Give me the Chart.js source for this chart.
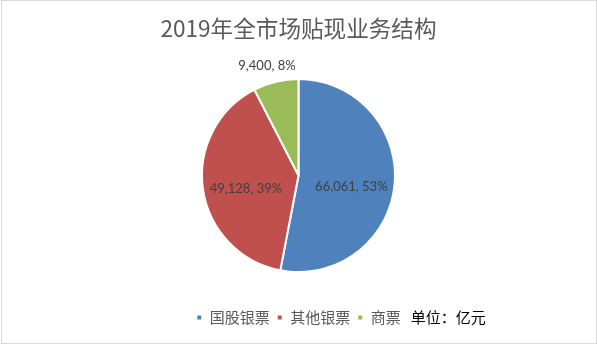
<!DOCTYPE html>
<html>
<head>
<meta charset="utf-8">
<title>2019年全市场贴现业务结构</title>
<script src="https://cdn.jsdelivr.net/npm/chart.js@4/dist/chart.umd.min.js"></script>
<style>
  html, body { margin: 0; padding: 0; background: #fff; }
  #box { width: 597px; height: 345px; }
</style>
</head>
<body>
<div id="box"><canvas id="pieChart"></canvas></div>
<script>
// ======================================
// DADOS
// ======================================

const categorias = ["国股银票", "其他银票", "商票"];
const valores = [66061, 49128, 9400];
const cores = ["#4F81BD", "#C0504D", "#9BBB59"];
const titulo = "2019年全市场贴现业务结构";
const unidade = "单位：亿元";

const total = valores.reduce((a, b) => a + b, 0);

// rótulo "valor, %" de cada fatia
function textoRotulo(i) {
    const pct = Math.round(valores[i] / total * 100);
    return valores[i].toLocaleString("en-US") + ", " + pct + "%";
}


// ======================================
// PLUGINS
// ======================================

// moldura cinza em volta do gráfico
const moldura = {
    id: "moldura",
    beforeDraw(chart) {
        const ctx = chart.ctx;
        ctx.save();
        ctx.fillStyle = "#ffffff";
        ctx.fillRect(0, 0, chart.width, chart.height);
        ctx.strokeStyle = "#d9d9d9";
        ctx.lineWidth = 1;
        ctx.strokeRect(1.5, 0.5, chart.width - 2, chart.height - 2);
        ctx.restore();
    }
};

// rótulos das fatias: dentro para as grandes, fora para a pequena
const rotulos = {
    id: "rotulos",
    afterDatasetsDraw(chart) {
        const ctx = chart.ctx;
        const arcos = chart.getDatasetMeta(0).data;

        ctx.save();
        ctx.font = "13px Lato";
        ctx.fillStyle = "#404040";
        ctx.textAlign = "center";
        ctx.textBaseline = "middle";

        arcos.forEach((arco, i) => {
            const meio = (arco.startAngle + arco.endAngle) / 2;
            const cos = Math.cos(meio);
            const sin = Math.sin(meio);
            const texto = textoRotulo(i);
            let x, y;

            if (valores[i] / total < 0.1) {
                const w = ctx.measureText(texto).width;
                const r = arco.outerRadius + 9;
                x = arco.x + cos * r + cos * w / 2;
                y = arco.y + sin * r + sin * 7;
            } else {
                const r = arco.outerRadius * 0.55;
                x = arco.x + cos * r;
                y = arco.y + sin * r + 6;
            }

            ctx.fillText(texto, x, y);
        });

        ctx.restore();
    }
};

// texto da unidade logo depois da legenda
const textoUnidade = {
    id: "textoUnidade",
    afterDraw(chart) {
        const caixas = chart.legend.legendHitBoxes;
        if (!caixas || !caixas.length) return;
        const ultima = caixas[caixas.length - 1];

        const ctx = chart.ctx;
        ctx.save();
        ctx.font = "15px 'Noto Sans CJK SC'";
        ctx.fillStyle = "#000000";
        ctx.textAlign = "left";
        ctx.textBaseline = "middle";
        ctx.fillText(unidade, ultima.left + ultima.width + 10, ultima.top + ultima.height / 2);
        ctx.restore();
    }
};


// ======================================
// GRÁFICO DE PIZZA
// ======================================

const canvas = document.getElementById("pieChart");

new Chart(canvas, {

    type: "pie",

    data: {
        labels: categorias,
        datasets: [{
            data: valores,
            backgroundColor: cores,
            borderColor: "#ffffff",
            borderWidth: 2,
            radius: 96.5
        }]
    },

    options: {
        responsive: true,
        maintainAspectRatio: false,
        animation: false,
        events: [],
        layout: {
            padding: { top: 0, bottom: 10, left: 0, right: 0 }
        },
        plugins: {
            title: {
                display: true,
                text: titulo,
                color: "#595959",
                font: { family: "'Noto Sans CJK SC'", size: 22.6, weight: "normal" },
                padding: { top: 14.5, bottom: 6.5 }
            },
            legend: {
                position: "bottom",
                labels: {
                    boxWidth: 6,
                    boxHeight: 6,
                    padding: 7,
                    color: "#595959",
                    font: { family: "'Noto Sans CJK SC'", size: 15 }
                }
            },
            tooltip: { enabled: false }
        }
    },

    plugins: [moldura, rotulos, textoUnidade]

});
</script>
</body>
</html>
